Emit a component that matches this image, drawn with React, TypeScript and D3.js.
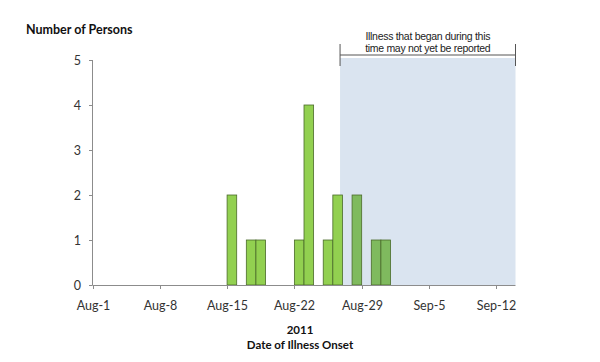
import React from "react";
import * as d3 from "d3";

const onsetDates = ["2011-08-15", "2011-08-17", "2011-08-18", "2011-08-22", "2011-08-23", "2011-08-25", "2011-08-26", "2011-08-28", "2011-08-30", "2011-08-31"];
const personCounts = [2, 1, 1, 1, 4, 1, 2, 2, 1, 1];
const mayNotBeReported = [false, false, false, false, false, false, false, true, true, true];
const tickDates = ["2011-08-01", "2011-08-08", "2011-08-15", "2011-08-22", "2011-08-29", "2011-09-05", "2011-09-12"];
const tickLabels = ["Aug-1", "Aug-8", "Aug-15", "Aug-22", "Aug-29", "Sep-5", "Sep-12"];
const yTicks = [0, 1, 2, 3, 4, 5];
const domainStart = "2011-08-01";
const domainEnd = "2011-09-14";
const shadeStart = "2011-08-26T18:00";
const shadeEnd = "2011-09-14";
const annotationLines = ["Illness that began during this", "time may not yet be reported"];

const parse = (s: string) => new Date(s + (s.length === 10 ? "T00:00" : ""));

export default function App() {
  const W = 600, H = 362;
  const x = d3.scaleTime().domain([parse(domainStart), parse(domainEnd)]).range([92.5, 515.5]);
  const y = d3.scaleLinear().domain([0, 5]).range([285, 60]);
  const axisColor = "#8c8c8c";
  const font = "Lato, 'Open Sans', sans-serif";
  const sx0 = x(parse(shadeStart));
  const sx1 = x(parse(shadeEnd));
  return (
    <svg width={W} height={H} style={{ position: "absolute", left: 0, top: 0, background: "#fff" }}>
      <rect x={sx0} y={58} width={sx1 - sx0} height={y(0) - 58} fill="#dae4f0" />
      {/* bracket */}
      <line x1={sx0} x2={sx1} y1={55} y2={55} stroke="#555" strokeWidth={1} />
      <line x1={sx0} x2={sx0} y1={44} y2={66} stroke="#555" strokeWidth={1} />
      <line x1={sx1} x2={sx1} y1={44} y2={66} stroke="#555" strokeWidth={1} />
      {annotationLines.map((t, i) => (
        <text key={t} x={(sx0 + sx1) / 2} y={40 + i * 12} textAnchor="middle" fontSize={10.5} fontFamily="'Liberation Sans', Arial, sans-serif" fill="#222" letterSpacing={-0.3}>{t}</text>
      ))}
      {/* bars */}
      {onsetDates.map((d, i) => {
        const d0 = parse(d);
        const d1 = d3.timeDay.offset(d0, 1);
        const bx = x(d0), bw = x(d1) - x(d0);
        return (
          <rect key={d} x={bx} y={y(personCounts[i])} width={bw} height={y(0) - y(personCounts[i])}
            fill={mayNotBeReported[i] ? "#7fba5e" : "#92d050"} stroke="#4a6a2a" strokeWidth={0.8} />
        );
      })}
      {/* y axis */}
      <line x1={92.5} x2={92.5} y1={y(5)} y2={y(0)} stroke={axisColor} />
      {yTicks.map((t) => (
        <g key={t}>
          <line x1={89} x2={92.5} y1={y(t) + 0.5} y2={y(t) + 0.5} stroke={axisColor} />
          <text x={81} y={y(t) + 4.5} textAnchor="end" fontSize={12.5} fontFamily={font} fill="#333">{t}</text>
        </g>
      ))}
      {/* x axis */}
      <line x1={92.5} x2={515.5} y1={y(0) + 0.5} y2={y(0) + 0.5} stroke={axisColor} />
      {tickDates.map((d, i) => {
        const tx = Math.round(x(parse(d))) + 0.5;
        return (
          <g key={d}>
            <line x1={tx} x2={tx} y1={y(0)} y2={y(0) + 4} stroke={axisColor} />
            <text x={tx} y={310} textAnchor="middle" fontSize={12.5} fontFamily={font} fill="#333">{tickLabels[i]}</text>
          </g>
        );
      })}
      <text x={26} y={34} fontSize={12.5} fontWeight="bold" fontFamily={font} fill="#111">Number of Persons</text>
      <text x={300} y={334} textAnchor="middle" fontSize={11.5} fontWeight="bold" fontFamily={font} fill="#111">2011</text>
      <text x={300} y={349} textAnchor="middle" fontSize={11.5} fontWeight="bold" fontFamily={font} fill="#111">Date of Illness Onset</text>
    </svg>
  );
}
